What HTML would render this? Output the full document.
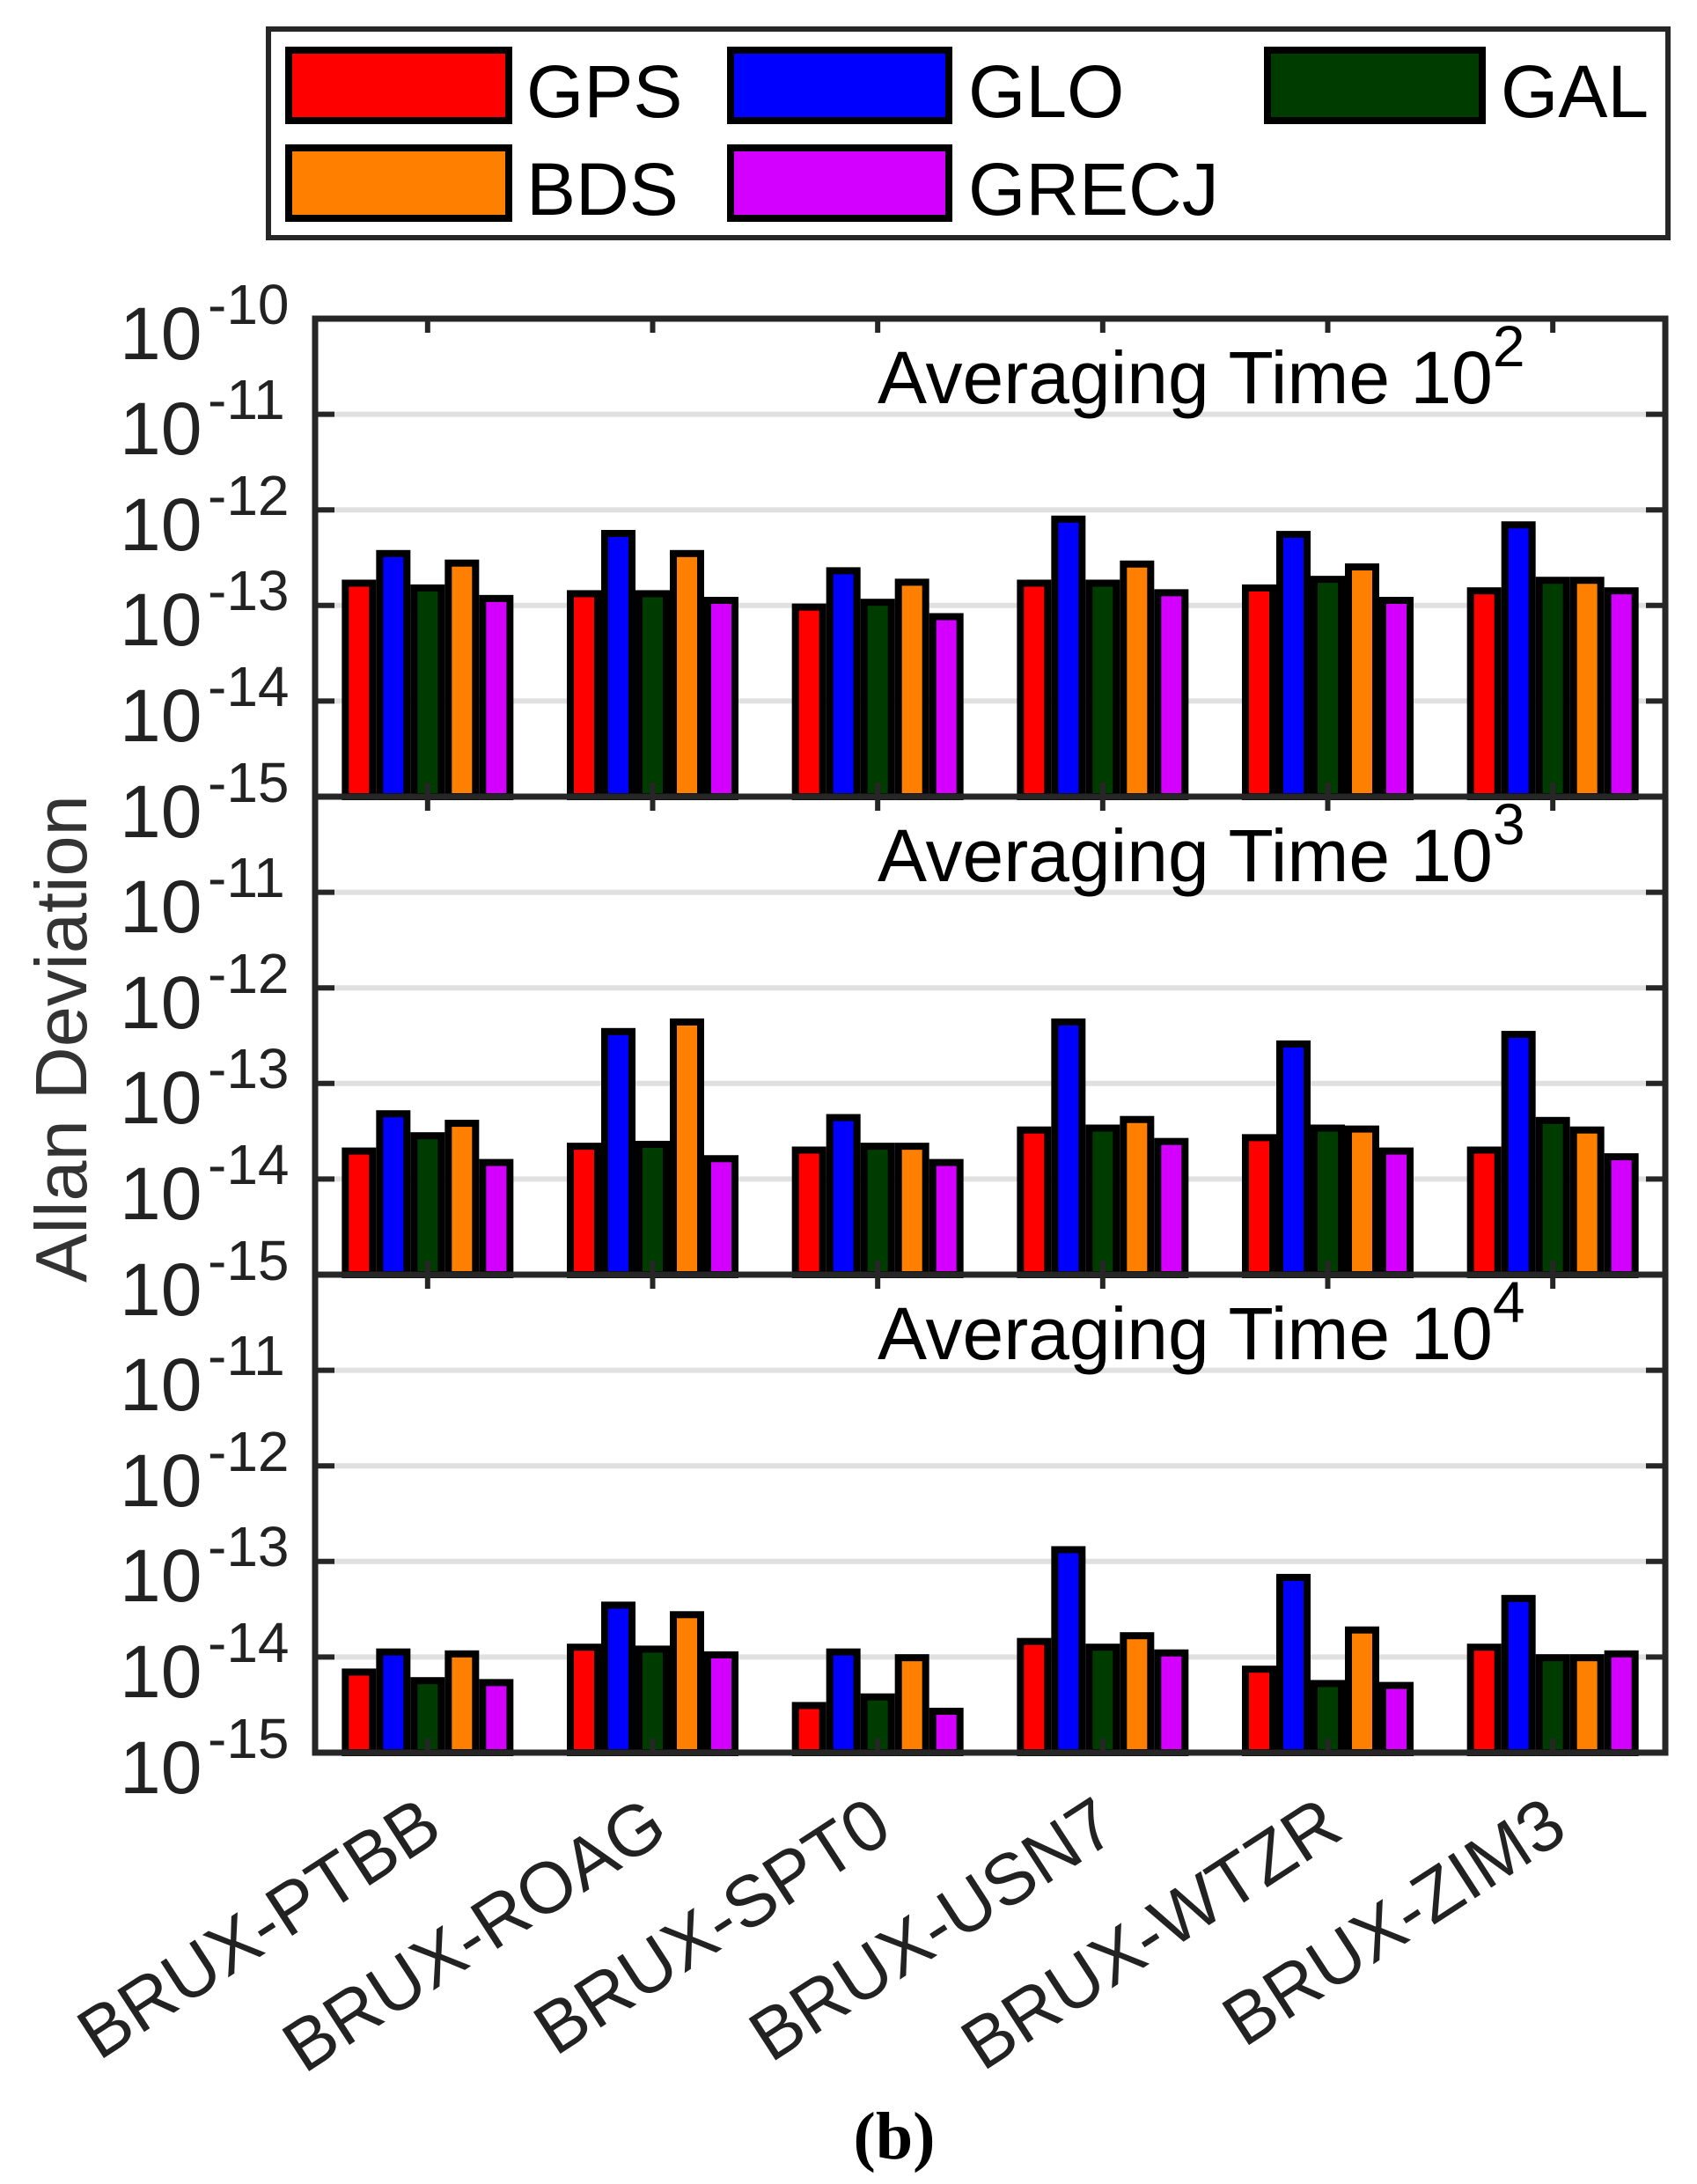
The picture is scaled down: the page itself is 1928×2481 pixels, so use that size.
<!DOCTYPE html>
<html><head><meta charset="utf-8"><style>
html,body{margin:0;padding:0;background:#fff;}
svg{display:block;font-family:"Liberation Sans",Arial,sans-serif;}
</style></head><body>
<svg id="s" width="1928" height="2481" viewBox="0 0 1928 2481" xmlns="http://www.w3.org/2000/svg">
<rect width="1928" height="2481" fill="#fff"/>
<!-- Legend -->
<rect x="305" y="33" width="1590" height="237" fill="#fff" stroke="#262626" stroke-width="6"/>
<rect x="328" y="57" width="250" height="80" fill="#ff0000" stroke="#000" stroke-width="8"/>
<rect x="328" y="168" width="250" height="80" fill="#ff8000" stroke="#000" stroke-width="8"/>
<rect x="830" y="57" width="248" height="80" fill="#0000ff" stroke="#000" stroke-width="8"/>
<rect x="830" y="168" width="248" height="80" fill="#d400ff" stroke="#000" stroke-width="8"/>
<rect x="1440" y="57" width="244" height="80" fill="#003c00" stroke="#000" stroke-width="8"/>
<g font-size="84" fill="#000">
<text x="598" y="133">GPS</text>
<text x="598" y="244">BDS</text>
<text x="1100" y="133">GLO</text>
<text x="1100" y="244">GRECJ</text>
<text x="1705" y="133">GAL</text>
</g>
<g id="plot"></g>
<!-- y tick labels -->
<g fill="#222" font-size="84">
<text x="136" y="408">10</text><text x="236" y="368" font-size="64">-10</text>
<text x="136" y="516">10</text><text x="236" y="476" font-size="64">-11</text>
<text x="136" y="625">10</text><text x="236" y="585" font-size="64">-12</text>
<text x="136" y="733">10</text><text x="236" y="693" font-size="64">-13</text>
<text x="136" y="842">10</text><text x="236" y="802" font-size="64">-14</text>
<text x="136" y="951">10</text><text x="236" y="911" font-size="64">-15</text>
<text x="136" y="1059">10</text><text x="236" y="1019" font-size="64">-11</text>
<text x="136" y="1168">10</text><text x="236" y="1128" font-size="64">-12</text>
<text x="136" y="1276">10</text><text x="236" y="1236" font-size="64">-13</text>
<text x="136" y="1385">10</text><text x="236" y="1345" font-size="64">-14</text>
<text x="136" y="1494">10</text><text x="236" y="1454" font-size="64">-15</text>
<text x="136" y="1602">10</text><text x="236" y="1562" font-size="64">-11</text>
<text x="136" y="1711">10</text><text x="236" y="1671" font-size="64">-12</text>
<text x="136" y="1819">10</text><text x="236" y="1779" font-size="64">-13</text>
<text x="136" y="1928">10</text><text x="236" y="1888" font-size="64">-14</text>
<text x="136" y="2037">10</text><text x="236" y="1997" font-size="64">-15</text>
</g>
<!-- panel titles -->
<g fill="#000" font-size="84">
<text x="997" y="458">Averaging Time 10<tspan font-size="66" dy="-42">2</tspan></text>
<text x="997" y="1001">Averaging Time 10<tspan font-size="66" dy="-42">3</tspan></text>
<text x="997" y="1544">Averaging Time 10<tspan font-size="66" dy="-42">4</tspan></text>
</g>
<text transform="translate(98,1180) rotate(-90)" text-anchor="middle" font-size="83" fill="#333">Allan Deviation</text>
<!-- x labels -->
<g fill="#222" font-size="82" text-anchor="end">
<text transform="translate(506,2086) rotate(-33)">BRUX-PTBB</text>
<text transform="translate(762,2086) rotate(-33)">BRUX-ROAG</text>
<text transform="translate(1017,2086) rotate(-33)">BRUX-SPT0</text>
<text transform="translate(1273,2086) rotate(-33)">BRUX-USN7</text>
<text transform="translate(1529,2086) rotate(-33)">BRUX-WTZR</text>
<text transform="translate(1784,2086) rotate(-33)">BRUX-ZIM3</text>
</g>
<text x="1016" y="2452" text-anchor="middle" font-family="Liberation Serif,serif" font-weight="bold" font-size="76">(b)</text>
</svg>
<script>
(function(){
var ns="http://www.w3.org/2000/svg",g=document.getElementById("plot");
function el(t,a){var e=document.createElementNS(ns,t);for(var k in a)e.setAttribute(k,a[k]);g.appendChild(e);return e;}
var L=358,R=1892,T0=362,H=543,D=108.6,sp=(R-L)/6;
var cols=["#ff0000","#0000ff","#003c00","#ff8000","#d400ff"];
var data=[
[[-12.73,-12.42,-12.78,-12.52,-12.89],[-12.84,-12.21,-12.84,-12.42,-12.91],[-12.98,-12.60,-12.93,-12.72,-13.08],[-12.73,-12.06,-12.73,-12.53,-12.83],[-12.78,-12.22,-12.69,-12.56,-12.91],[-12.81,-12.12,-12.70,-12.70,-12.81]],
[[-13.67,-13.28,-13.51,-13.38,-13.79],[-13.62,-12.42,-13.60,-12.32,-13.75],[-13.66,-13.32,-13.62,-13.62,-13.79],[-13.45,-12.32,-13.43,-13.34,-13.57],[-13.53,-12.55,-13.43,-13.44,-13.67],[-13.66,-12.45,-13.35,-13.45,-13.73]],
[[-14.12,-13.91,-14.21,-13.93,-14.23],[-13.86,-13.42,-13.88,-13.52,-13.94],[-14.47,-13.91,-14.38,-13.97,-14.53],[-13.80,-12.84,-13.86,-13.74,-13.92],[-14.09,-13.13,-14.24,-13.68,-14.26],[-13.86,-13.35,-13.97,-13.97,-13.93]]];
for(var p=0;p<3;p++){
 var T=T0+p*H,B=T+H;
 for(var k=1;k<5;k++){var y=T+k*D;
  el("line",{x1:L+8,x2:R-8,y1:y,y2:y,stroke:"#e0e0e0","stroke-width":6});
  el("line",{x1:L,x2:L+22,y1:y,y2:y,stroke:"#262626","stroke-width":6});
  el("line",{x1:R-22,x2:R,y1:y,y2:y,stroke:"#262626","stroke-width":6});}
 for(var i=0;i<6;i++){var c=L+sp*(i+0.5);
  for(var j=0;j<5;j++){var yt=T+(-10-data[p][i][j])*D;
   el("rect",{x:c-97.5+j*39+4,y:yt+4,width:31,height:B-yt-4,fill:cols[j],stroke:"#000","stroke-width":8});}
 }
 for(var i=0;i<6;i++){var c=L+sp*(i+0.5);
  el("line",{x1:c,x2:c,y1:T-3,y2:T+16,stroke:"#262626","stroke-width":6});
  el("line",{x1:c,x2:c,y1:B-16,y2:B+3,stroke:"#262626","stroke-width":6});}
 el("rect",{x:L,y:T,width:R-L,height:H,fill:"none",stroke:"#262626","stroke-width":7});
}
})();
</script>
</body></html>
